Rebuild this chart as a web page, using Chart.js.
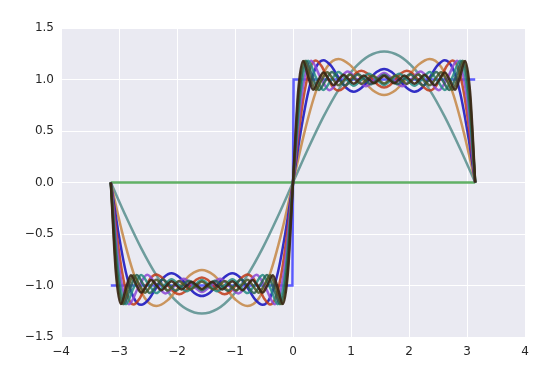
<!DOCTYPE html>
<html>
<head>
<meta charset="utf-8">
<script src="https://cdn.jsdelivr.net/npm/chart.js@4/dist/chart.umd.min.js"></script>
<style>
  html, body { margin: 0; padding: 0; background: #ffffff; }
  #wrap { width: 560px; height: 375px; }
</style>
</head>
<body>
<div id="wrap"><canvas id="chart" width="560" height="375"></canvas></div>
<script>
// Square wave and its Fourier partial sums (0 .. 9 odd harmonics)
// every partial sum is sampled evenly over [-pi, pi]
const squareX = [-3.1416, -0.01, 0.01, 3.1416];
const squareY = [-1, -1, 1, 1];

const s0 = [0, 0];
const s1 = [0, -0.330, -0.637, -0.900, -1.103, -1.230, -1.273, -1.230, -1.103, -0.900, -0.637, -0.330,
  0, 0.330, 0.637, 0.900, 1.103, 1.230, 1.273, 1.230, 1.103, 0.900, 0.637, 0.330, 0];
const s2 = [0, -0.484, -0.879, -1.124, -1.200, -1.142, -1.014, -0.896, -0.849, -0.896, -1.014, -1.142, -1.200, -1.124, -0.879, -0.484,
  0, 0.484, 0.879, 1.124, 1.200, 1.142, 1.014, 0.896, 0.849, 0.896, 1.014, 1.142, 1.200, 1.124, 0.879, 0.484, 0];
const s3 = [0, -0.484, -0.876, -1.115, -1.188, -1.134, -1.020, -0.920, -0.882, -0.917, -0.996, -1.072, -1.103,
  -1.072, -0.996, -0.917, -0.882, -0.920, -1.020, -1.134, -1.188, -1.115, -0.876, -0.484,
  0, 0.484, 0.876, 1.115, 1.188, 1.134, 1.020, 0.920, 0.882, 0.917, 0.996, 1.072, 1.103,
  1.072, 0.996, 0.917, 0.882, 0.920, 1.020, 1.134, 1.188, 1.115, 0.876, 0.484, 0];
const s4 = [0, -0.483, -0.874, -1.112, -1.184, -1.131, -1.022, -0.927, -0.892, -0.923, -0.993, -1.059, -1.085, -1.060, -1.002, -0.945, -0.922,
  -0.945, -1.002, -1.060, -1.085, -1.059, -0.993, -0.923, -0.892, -0.927, -1.022, -1.131, -1.184, -1.112, -0.874, -0.483,
  0, 0.483, 0.874, 1.112, 1.184, 1.131, 1.022, 0.927, 0.892, 0.923, 0.993, 1.059, 1.085, 1.060, 1.002, 0.945, 0.922,
  0.945, 1.002, 1.060, 1.085, 1.059, 0.993, 0.923, 0.892, 0.927, 1.022, 1.131, 1.184, 1.112, 0.874, 0.483, 0];
const s5 = [0, -0.874, -1.182, -1.023, -0.896, -0.992, -1.077, -1.003, -0.934, -0.999, -1.063,
  -0.999, -0.934, -1.003, -1.077, -0.992, -0.896, -1.023, -1.182, -0.874,
  0, 0.874, 1.182, 1.023, 0.896, 0.992, 1.077, 1.003, 0.934, 0.999, 1.063,
  0.999, 0.934, 1.003, 1.077, 0.992, 0.896, 1.023, 1.182, 0.874, 0];
const s6 = [0, -0.873, -1.181, -1.023, -0.898, -0.991, -1.074, -1.004, -0.939, -0.998, -1.055, -1.001, -0.947,
  -1.001, -1.055, -0.998, -0.939, -1.004, -1.074, -0.991, -0.898, -1.023, -1.181, -0.873,
  0, 0.873, 1.181, 1.023, 0.898, 0.991, 1.074, 1.004, 0.939, 0.998, 1.055, 1.001, 0.947,
  1.001, 1.055, 0.998, 0.939, 1.004, 1.074, 0.991, 0.898, 1.023, 1.181, 0.873, 0];
const s7 = [0, -0.873, -1.181, -1.023, -0.899, -0.991, -1.072, -1.004, -0.942, -0.998, -1.050, -1.001, -0.954, -1.000, -1.045,
  -1.000, -0.954, -1.001, -1.050, -0.998, -0.942, -1.004, -1.072, -0.991, -0.899, -1.023, -1.181, -0.873,
  0, 0.873, 1.181, 1.023, 0.899, 0.991, 1.072, 1.004, 0.942, 0.998, 1.050, 1.001, 0.954, 1.000, 1.045,
  1.000, 0.954, 1.001, 1.050, 0.998, 0.942, 1.004, 1.072, 0.991, 0.899, 1.023, 1.181, 0.873, 0];
const s8 = [0, -0.873, -1.180, -1.023, -0.900, -0.991, -1.070, -1.005, -0.944, -0.997, -1.048, -1.001, -0.957, -0.999, -1.040, -1.000, -0.960,
  -1.000, -1.040, -0.999, -0.957, -1.001, -1.048, -0.997, -0.944, -1.005, -1.070, -0.991, -0.900, -1.023, -1.180, -0.873,
  0, 0.873, 1.180, 1.023, 0.900, 0.991, 1.070, 1.005, 0.944, 0.997, 1.048, 1.001, 0.957, 0.999, 1.040, 1.000, 0.960,
  1.000, 1.040, 0.999, 0.957, 1.001, 1.048, 0.997, 0.944, 1.005, 1.070, 0.991, 0.900, 1.023, 1.180, 0.873, 0];
const s9 = [0, -0.873, -1.180, -1.024, -0.901, -0.991, -1.069, -1.005, -0.946, -0.997, -1.046, -1.002, -0.959, -0.999, -1.038, -1.001, -0.964, -1.000, -1.035,
  -1.000, -0.964, -1.001, -1.038, -0.999, -0.959, -1.002, -1.046, -0.997, -0.946, -1.005, -1.069, -0.991, -0.901, -1.024, -1.180, -0.873,
  0, 0.873, 1.180, 1.024, 0.901, 0.991, 1.069, 1.005, 0.946, 0.997, 1.046, 1.002, 0.959, 0.999, 1.038, 1.001, 0.964, 1.000, 1.035,
  1.000, 0.964, 1.001, 1.038, 0.999, 0.959, 1.002, 1.046, 0.997, 0.946, 1.005, 1.069, 0.991, 0.901, 1.024, 1.180, 0.873, 0];

const xTicks = [-4, -3, -2, -1, 0, 1, 2, 3, 4];
const yTicks = [-1.5, -1.0, -0.5, 0.0, 0.5, 1.0, 1.5];

const partialSums = [s0, s1, s2, s3, s4, s5, s6, s7, s8, s9];
const sumColors = ['rgba(80,170,85,0.9)', 'rgba(95,148,146,0.9)', 'rgba(198,140,78,0.9)', 'rgba(30,26,192,0.9)',
                   'rgba(192,58,24,0.85)', 'rgba(140,72,214,0.85)', 'rgba(36,140,130,0.85)', 'rgba(36,96,82,0.85)',
                   'rgba(72,84,36,0.85)', 'rgba(56,38,20,0.9)'];

// even sample positions over [-pi, pi]
function evenX(count) {
    const xs = [];
    for (let i = 0; i < count; i++) xs.push(-Math.PI + 2 * Math.PI * i / (count - 1));
    return xs;
}

function toPoints(xs, ys) {
    return ys.map((y, i) => ({ x: xs[i], y: y }));
}

const datasets = [{
    data: toPoints(squareX, squareY),
    borderColor: 'rgba(35, 35, 255, 0.72)',
    borderWidth: 2.5,
    pointRadius: 0,
    tension: 0,
    order: 20
}];

partialSums.forEach((ys, n) => {
    datasets.push({
        data: toPoints(evenX(ys.length), ys),
        borderColor: sumColors[n],
        borderWidth: 2.5,
        pointRadius: 0,
        cubicInterpolationMode: 'monotone',
        order: 10 - n
    });
});

const minus = s => s.replace('-', '\u2212');

// seaborn-like grey plot background
const plotBg = {
    id: 'plotBg',
    beforeDraw(chart) {
        const { ctx, chartArea: a } = chart;
        ctx.save();
        ctx.fillStyle = '#eaeaf2';
        ctx.fillRect(a.left, a.top, a.right - a.left, a.bottom - a.top);
        ctx.restore();
    }
};

const tickFont = { family: 'DejaVu Sans', size: 12 };

new Chart(document.getElementById('chart'), {
    type: 'line',
    data: { datasets: datasets },
    options: {
        responsive: false,
        animation: false,
        layout: { padding: { top: 28, right: 35, left: 0, bottom: 0 } },
        plugins: { legend: { display: false }, tooltip: { enabled: false } },
        scales: {
            x: {
                type: 'linear',
                min: xTicks[0],
                max: xTicks[xTicks.length - 1],
                afterBuildTicks: s => { s.ticks = xTicks.map(v => ({ value: v })); },
                afterFit: s => { s.height = 38; },
                ticks: { padding: 8, color: '#262626', font: tickFont, maxRotation: 0,
                         callback: v => minus(String(v)) },
                grid: { color: '#ffffff', lineWidth: 1, drawTicks: false },
                border: { display: false }
            },
            y: {
                type: 'linear',
                min: yTicks[0],
                max: yTicks[yTicks.length - 1],
                afterBuildTicks: s => { s.ticks = yTicks.map(v => ({ value: v })); },
                afterFit: s => { s.width = 61; },
                ticks: { padding: 7, color: '#262626', font: tickFont,
                         callback: v => minus(v.toFixed(1)) },
                grid: { color: '#ffffff', lineWidth: 1, drawTicks: false },
                border: { display: false }
            }
        }
    },
    plugins: [plotBg]
});
</script>
</body>
</html>
